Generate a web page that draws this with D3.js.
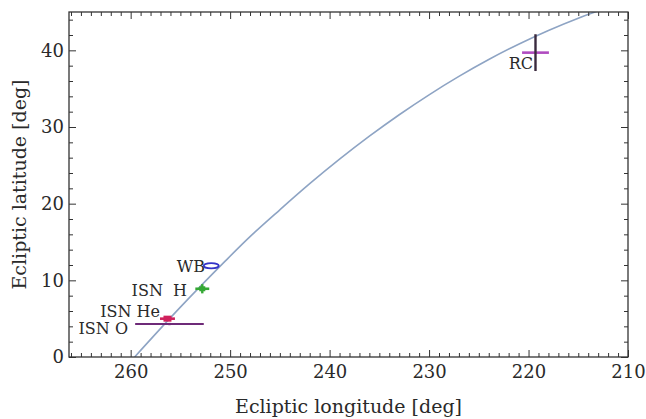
<!DOCTYPE html>
<html>
<head>
<meta charset="utf-8">
<script src="https://cdn.jsdelivr.net/npm/d3@7"></script>
<style>
  html, body { margin: 0; padding: 0; background: #fff; }
  svg { display: block; }
  text { font-family: "DejaVu Serif", "Liberation Serif", serif; fill: #2a2a2a; }
</style>
</head>
<body>
<svg id="chart" width="646" height="419"></svg>
<script>
// ---- data ----
const curveLon = [259.6, 255, 250.5, 248, 245, 242, 239, 236, 233, 230, 227, 224, 221, 218, 215, 212];
const curveLat = [0, 6.5, 12.5, 15.7, 19.2, 22.6, 25.8, 28.8, 31.6, 34.2, 36.6, 38.8, 40.8, 42.6, 44.2, 45.6];

const pointNames  = ["WB", "ISN H", "ISN He", "ISN O", "RC"];
const pointLon    = [251.9, 252.8, 256.3, 256.1, 219.3];
const pointLat    = [11.9, 8.9, 5.0, 4.3, 39.7];
const pointLonErr = [0.75, 0.7, 0.75, 3.45, 1.35];
const pointLatErr = [0.35, 0.6, 0.3, 0.15, 2.4];

const xTicks = [260, 250, 240, 230, 220, 210];
const yTicks = [0, 10, 20, 30, 40];

// ---- layout / style ----
const mL = 69, mR = 628, mT = 12, mB = 357;
const colors = { "WB": "#3434c8", "ISN H": "#34a834", "ISN He": "#d0205c", "ISN O": "#6e2a78", "RC": "#b04cc0" };

const svg = d3.select("#chart");
const x = d3.scaleLinear().domain([266.2, 210]).range([mL, mR]);
const y = d3.scaleLinear().domain([0, 45]).range([mB, mT]);

// clip
svg.append("clipPath").attr("id", "clip").append("rect")
  .attr("x", mL).attr("y", mT).attr("width", mR - mL).attr("height", mB - mT);

// curve
const curvePts = curveLon.map((d, i) => [d, curveLat[i]]);
svg.append("path")
  .attr("clip-path", "url(#clip)")
  .attr("d", d3.line().x(d => x(d[0])).y(d => y(d[1])).curve(d3.curveCatmullRom)(curvePts))
  .attr("fill", "none").attr("stroke", "#8ea4c4").attr("stroke-width", 1.6);

// axes with inward ticks
const xMinor = d3.range(211, 267, 1).filter(v => v % 10 !== 0);
const yMinor = d3.range(2, 45, 2).filter(v => v % 10 !== 0);
function addAxis(axisGen, pos, ticks, size, labels) {
  const g = svg.append("g").attr("transform", pos);
  g.call(axisGen.tickValues(ticks).tickSize(-size).tickSizeOuter(0).tickFormat(labels ? d3.format("d") : ""));
  g.select(".domain").remove();
  g.selectAll(".tick line").attr("stroke", "#333").attr("stroke-width", 1);
  g.attr("font-family", null).attr("font-size", null);
  return g;
}
const gx = addAxis(d3.axisBottom(x), `translate(0,${mB})`, xTicks, 7, true);
gx.selectAll(".tick text").attr("dy", "0.71em").style("font-size", "18px").attr("fill", "#2a2a2a").attr("y", 8);
addAxis(d3.axisBottom(x), `translate(0,${mB})`, xMinor, 4, false);
addAxis(d3.axisTop(x), `translate(0,${mT})`, xTicks, 7, false);
addAxis(d3.axisTop(x), `translate(0,${mT})`, xMinor, 4, false);
const gy = addAxis(d3.axisLeft(y), `translate(${mL},0)`, yTicks, 7, true);
gy.selectAll(".tick text").style("font-size", "18px").attr("fill", "#2a2a2a").attr("x", -5);
addAxis(d3.axisLeft(y), `translate(${mL},0)`, yMinor, 4, false);
addAxis(d3.axisRight(y), `translate(${mR},0)`, yTicks, 7, false);
addAxis(d3.axisRight(y), `translate(${mR},0)`, yMinor, 4, false);

// frame
svg.append("rect").attr("x", mL).attr("y", mT).attr("width", mR - mL).attr("height", mB - mT)
  .attr("fill", "none").attr("stroke", "#333").attr("stroke-width", 1.3);

// points
const pts = pointNames.map((n, i) => ({ n, lon: pointLon[i], lat: pointLat[i], el: pointLonErr[i], ea: pointLatErr[i] }));
const gp = svg.append("g");
pts.forEach(p => {
  const c = colors[p.n];
  if (p.n === "WB") {
    gp.append("ellipse").attr("cx", x(p.lon)).attr("cy", y(p.lat))
      .attr("rx", Math.abs(x(p.lon + p.el) - x(p.lon))).attr("ry", Math.abs(y(p.lat + p.ea) - y(p.lat)))
      .attr("fill", "none").attr("stroke", c).attr("stroke-width", 1.8);
    return;
  }
  const vColor = p.n === "RC" ? "#3a2a3e" : c;
  const w = p.n === "ISN O" ? 2 : 2.6;
  gp.append("line").attr("x1", x(p.lon - p.el)).attr("x2", x(p.lon + p.el))
    .attr("y1", y(p.lat)).attr("y2", y(p.lat)).attr("stroke", c).attr("stroke-width", w);
  gp.append("line").attr("x1", x(p.lon)).attr("x2", x(p.lon))
    .attr("y1", y(p.lat - p.ea)).attr("y2", y(p.lat + p.ea)).attr("stroke", vColor).attr("stroke-width", 2.4);
  if (p.n === "ISN He") {
    gp.append("rect").attr("x", x(p.lon) - 4).attr("y", y(p.lat) - 3).attr("width", 8).attr("height", 6).attr("fill", c);
  }
  if (p.n === "ISN H") {
    gp.append("rect").attr("x", x(p.lon) - 3).attr("y", y(p.lat) - 2.5).attr("width", 6).attr("height", 5).attr("fill", c);
  }
});

// labels
const labelPos = { "WB": [205, 272], "ISN H": [187, 296], "ISN He": [160, 317], "ISN O": [128, 334], "RC": [533, 69] };
pointNames.forEach(n => {
  svg.append("text").attr("x", labelPos[n][0]).attr("y", labelPos[n][1]).attr("text-anchor", "end")
    .style("font-size", "16px").style("white-space", "pre").text(n === "ISN H" ? "ISN  H" : n);
});

// axis titles
svg.append("text").attr("x", (mL + mR) / 2).attr("y", 413).attr("text-anchor", "middle")
  .style("font-size", "19px").text("Ecliptic longitude [deg]");
svg.append("text").attr("transform", `translate(26,${(mT + mB) / 2}) rotate(-90)`).attr("text-anchor", "middle")
  .style("font-size", "19px").text("Ecliptic latitude [deg]");
</script>
</body>
</html>
